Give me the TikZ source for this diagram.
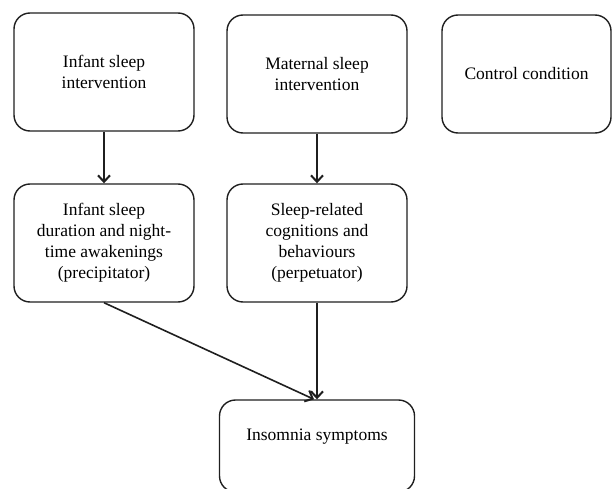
\documentclass[tikz,border=0pt]{standalone}
\usepackage{fontspec}
\setmainfont{Liberation Serif}
\usetikzlibrary{arrows.meta,calc}
\begin{document}
\begin{tikzpicture}[x=1pt,y=-1pt,
  box/.style={draw=black!88, line width=1.4pt, rounded corners=16pt, align=center,
    inner sep=0pt, minimum width=180pt, minimum height=118pt,
    font=\fontsize{17.5pt}{21pt}\selectfont},
  arr/.style={draw=black!88, line width=1.6pt, -{Straight Barb[length=6.5pt,width=12pt,line width=2pt]}}]
\clip (0,0) rectangle (612,489);
\useasboundingbox (0,0) rectangle (612,489);
\node[box] (isi) at (104,72) {Infant sleep\\intervention};
\node[box] (msi) at (317,74) {Maternal sleep\\intervention};
\node[box, minimum width=169pt] (cc) at (526.5,74) {Control condition};
\node[box] (isd) at (104,243) {Infant sleep\\duration and night-\\time awakenings\\(precipitator)};
\node[box] (src) at (317,243) {Sleep-related\\cognitions and\\behaviours\\(perpetuator)};
\node[box, minimum width=195pt, minimum height=92pt, text height=12pt, text depth=24pt] (ins) at (317,446) {Insomnia symptoms};
\draw[arr] (isi.south) -- (isd.north);
\draw[arr] (msi.south) -- (src.north);
\draw[arr] (isd.south) -- ($(ins.north)+(-3,0)$);
\draw[arr] (src.south) -- (ins.north);
\end{tikzpicture}
\end{document}
